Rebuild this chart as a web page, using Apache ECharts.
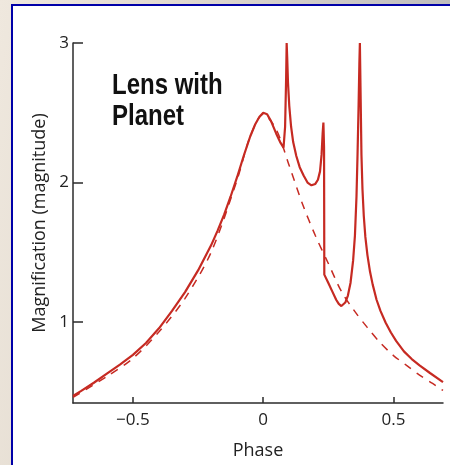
<!DOCTYPE html>
<html>
<head>
<meta charset="utf-8">
<script src="https://cdn.jsdelivr.net/npm/echarts@6/dist/echarts.min.js"></script>
<style>
  html, body { margin: 0; padding: 0; }
  body {
    width: 450px; height: 465px; overflow: hidden; position: relative;
    background: linear-gradient(100deg, #efe8de 0%, #e3dbd0 30%, #c9c6c3 70%, #b4b4b6 100%);
  }
  #frame {
    position: absolute; left: 11px; top: 4px; right: 0; bottom: 0;
    background: #fff;
    border-left: 2px solid #0000a8; border-top: 2px solid #0000a8;
  }
  #main { position: absolute; left: 0; top: 0; width: 450px; height: 465px; }
</style>
</head>
<body>
<div id="frame"></div>
<div id="main"></div>
<script>
// light curve with planet (solid)
var solidPhase = [-0.73, -0.7, -0.65, -0.6, -0.55, -0.5, -0.45, -0.4, -0.35, -0.3, -0.25, -0.2, -0.175, -0.15, -0.125, -0.1, -0.075, -0.05, -0.03, -0.015, 0, 0.015, 0.03, 0.05, 0.065, 0.078,
                  0.084, 0.088, 0.09, 0.092, 0.095, 0.1, 0.107, 0.115, 0.127, 0.14, 0.155, 0.17, 0.185, 0.2, 0.21, 0.218, 0.224, 0.228, 0.231, 0.2335,
                  0.2345, 0.25, 0.265, 0.28, 0.29, 0.3, 0.305, 0.315, 0.325, 0.335, 0.345, 0.352, 0.358, 0.362, 0.366, 0.369, 0.371, 0.374, 0.377, 0.381, 0.386, 0.392,
                  0.4, 0.41, 0.42, 0.435, 0.45, 0.47, 0.49, 0.51, 0.54, 0.57, 0.6, 0.64, 0.69];
var solidMag   = [0.47, 0.505, 0.565, 0.63, 0.695, 0.765, 0.85, 0.955, 1.08, 1.215, 1.37, 1.55, 1.655, 1.77, 1.90, 2.04, 2.19, 2.33, 2.42, 2.47, 2.50, 2.49, 2.44, 2.35, 2.29, 2.25,
                  2.40, 2.75, 3.0, 2.9, 2.72, 2.55, 2.40, 2.29, 2.19, 2.11, 2.05, 2.0, 1.98, 1.99, 2.02, 2.08, 2.2, 2.35, 2.43, 2.25,
                  1.34, 1.28, 1.22, 1.16, 1.13, 1.115, 1.12, 1.14, 1.19, 1.28, 1.44, 1.62, 1.9, 2.2, 2.55, 2.85, 3.0, 2.6, 2.2, 1.95, 1.76, 1.61,
                  1.48, 1.36, 1.27, 1.16, 1.08, 0.995, 0.925, 0.865, 0.79, 0.735, 0.69, 0.635, 0.57];
// single lens curve (dashed)
var dashPhase = [-0.73, -0.6, -0.5, -0.4, -0.3, -0.2, -0.1, -0.05, 0, 0.05, 0.1, 0.15, 0.2, 0.25, 0.3, 0.35, 0.4, 0.45, 0.5, 0.55, 0.6, 0.65, 0.69];
var dashMag   = [0.46, 0.61, 0.74, 0.93, 1.17, 1.50, 2.02, 2.33, 2.49, 2.38, 2.12, 1.85, 1.62, 1.42, 1.22, 1.08, 0.96, 0.85, 0.76, 0.69, 0.62, 0.56, 0.51];

var xTicks = [-0.5, 0, 0.5];
var yTicks = [1, 2, 3];

function zip(a, b) { return a.map(function (v, i) { return [v, b[i]]; }); }

var chart = echarts.init(document.getElementById('main'), null, { renderer: 'canvas' });
var axisColor = '#2b2b2b';
var font = '"Open Sans", sans-serif';
var red = '#c62a22';

chart.setOption({
  animation: false,
  backgroundColor: 'transparent',
  grid: { left: 73, right: 7, top: 43, bottom: 53 },
  xAxis: {
    type: 'value', min: -0.73, max: 0.69,
    name: 'Phase', nameLocation: 'middle', nameGap: 39,
    nameTextStyle: { color: '#222', fontSize: 18, fontFamily: font },
    axisLine: { onZero: false, lineStyle: { color: axisColor, width: 1.5 } },
    axisTick: { inside: true, length: 6, customValues: xTicks, lineStyle: { color: axisColor, width: 1.5 } },
    axisLabel: {
      customValues: xTicks, margin: 9, color: '#222', fontSize: 17, fontFamily: font,
      formatter: function (v) { return v < 0 ? '\u2212' + Math.abs(v) : String(v); }
    },
    splitLine: { show: false }
  },
  yAxis: {
    type: 'value', min: 0.42, max: 3,
    name: 'Magnification (magnitude)', nameLocation: 'middle', nameGap: 24, nameRotate: 90,
    nameTextStyle: { color: '#222', fontSize: 18, fontFamily: font },
    axisLine: { onZero: false, lineStyle: { color: axisColor, width: 1.5 } },
    axisTick: { inside: true, length: 10, customValues: yTicks, lineStyle: { color: axisColor, width: 1.5 } },
    axisLabel: { customValues: yTicks, margin: 4, color: '#222', fontSize: 17, fontFamily: font },
    splitLine: { show: false }
  },
  graphic: [{
    type: 'text', left: 112, top: 70, scaleX: 0.8,
    style: {
      text: 'Lens with\nPlanet', fill: '#111',
      font: 'bold 30px "Liberation Sans", Arial, sans-serif', lineHeight: 31
    }
  }],
  series: [{
    type: 'line', data: zip(dashPhase, dashMag), showSymbol: false, smooth: 0.3,
    lineStyle: { color: red, width: 1.5, type: [8, 7] }, z: 2
  }, {
    type: 'line', data: zip(solidPhase, solidMag), showSymbol: false,
    lineStyle: { color: red, width: 2.2 }, z: 3
  }]
});
</script>
</body>
</html>
